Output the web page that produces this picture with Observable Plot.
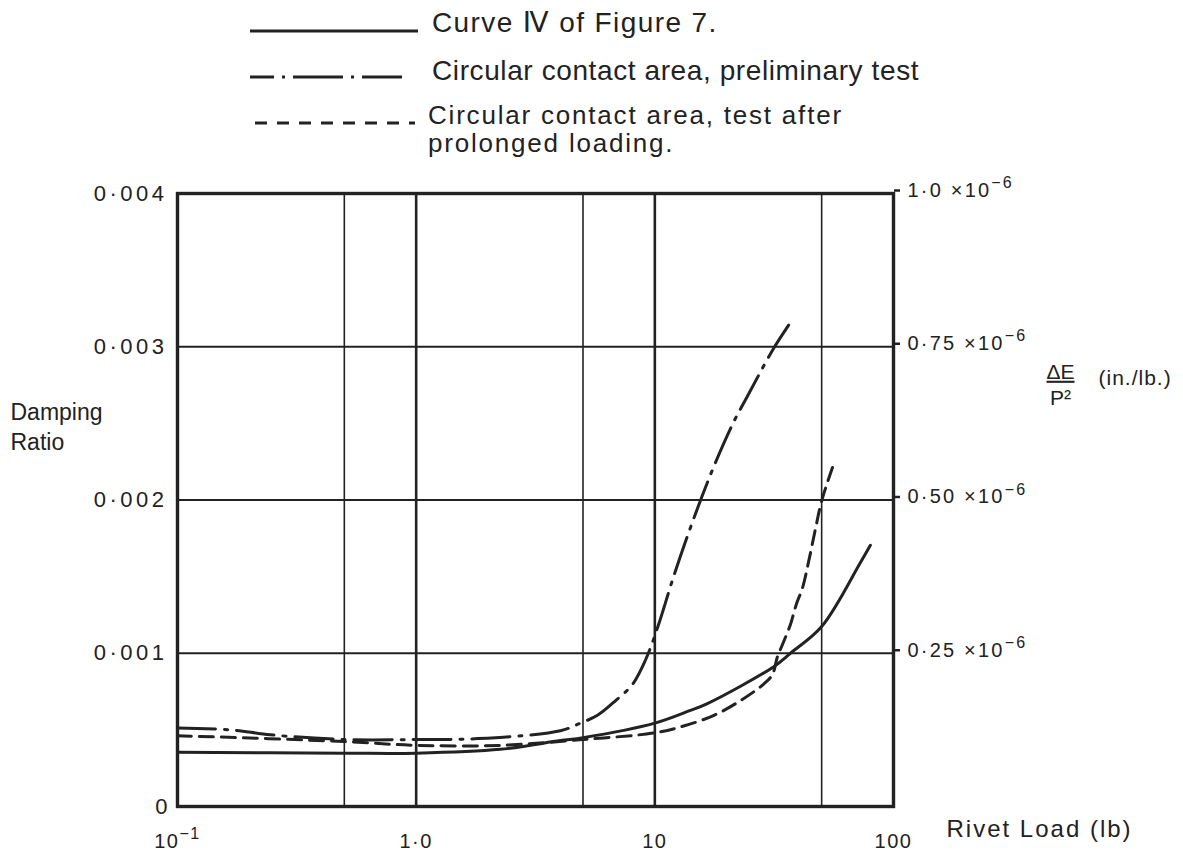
<!DOCTYPE html>
<html>
<head>
<meta charset="utf-8">
<script src="https://cdn.jsdelivr.net/npm/d3@7"></script>
<script src="https://cdn.jsdelivr.net/npm/@observablehq/plot@0.6"></script>
<style>
  html, body { margin: 0; padding: 0; background: #fff; }
  body { width: 1183px; height: 853px; overflow: hidden; font-family: "Liberation Sans", "DejaVu Sans", sans-serif; color: #222; }
  #legend { position: relative; width: 1183px; height: 170px; }
  #legend .sample { position: absolute; }
  #legend .label { position: absolute; font-size: 28px; line-height: 28px; white-space: nowrap; letter-spacing: 0.6px; }
</style>
</head>
<body>
<div id="legend"></div>
<div id="chart"></div>
<script>
// ---------- data ----------
// Rivet load (lb) and damping ratio for each curve
const curveIVLoad  = [0.1, 0.5, 1, 2.25, 4.02, 5, 10, 14.1, 16.6, 31.4, 37, 50, 72.6, 80];
const curveIVRatio = [0.000354, 0.000348, 0.000348, 0.000373, 0.00043, 0.000449, 0.000544, 0.000627, 0.000671, 0.000911, 0.001, 0.001174, 0.001591, 0.001705];

const prelimLoad  = [0.1, 0.167, 0.245, 0.5, 1, 1.81, 4.02, 4.88, 5.75, 6.84, 8.06, 9.14, 10.3, 12.0, 14.4, 17.6, 21.3, 24.4, 31.4, 38.1];
const prelimRatio = [0.000513, 0.0005, 0.000468, 0.000437, 0.000437, 0.000443, 0.000494, 0.000544, 0.000595, 0.00069, 0.000797, 0.000956, 0.001174, 0.001503, 0.001859, 0.002212, 0.002503, 0.002675, 0.002987, 0.003187];

const prolongedLoad  = [0.1, 0.5, 1, 2.25, 5, 10, 13.2, 17.7, 22.8, 28.5, 31.1, 32.6, 34.2, 37.0, 39.2, 41.5, 44.0, 47.1, 50.0, 55.5];
const prolongedRatio = [0.000462, 0.000424, 0.000399, 0.000399, 0.000437, 0.000481, 0.000525, 0.000595, 0.00069, 0.000797, 0.000861, 0.000975, 0.001054, 0.001188, 0.001322, 0.001423, 0.001591, 0.001812, 0.001993, 0.002212];

// axis ticks and labels
const xGridMinor   = [0.5, 5, 50];
const xGridMajor   = [1, 10];
const xLabelTicks  = [0.1, 1, 10, 100];
const xTickLabels  = ["10⁻¹", "1·0", "10", "100"];
const yTicks       = [0, 0.001, 0.002, 0.003, 0.004];
const yTickLabels  = ["0", "0·001", "0·002", "0·003", "0·004"];
const yGrid        = [0.001, 0.002, 0.003];
const rightTicks   = [0.001, 0.002, 0.003, 0.004];
const rightLabels  = ["0·25 ×10⁻⁶", "0·50 ×10⁻⁶", "0·75 ×10⁻⁶", "1·0 ×10⁻⁶"];

const legendLabels = ["Curve Ⅳ of Figure 7.", "Circular contact area, preliminary test", "Circular contact area, test after\nprolonged loading."];
const xTitle = "Rivet Load (lb)";
const yTitle = "Damping\nRatio";
const rightTitleTop = "ΔE";
const rightTitleBottom = "P²";
const rightTitleUnit = "(in./lb.)";

// ---------- styles ----------
const INK = "#222";
const dashes = [null, "38,9,3,9", "14,8"];
const legendDashes = [null, "24,8,3,8,50,8,3,8,40", "12,10"];

// ---------- build tables ----------
const toRows = (xs, ys) => xs.map((x, i) => ({load: x, ratio: ys[i]}));
const curveIV = toRows(curveIVLoad, curveIVRatio);
const prelim = toRows(prelimLoad, prelimRatio);
const prolonged = toRows(prolongedLoad, prolongedRatio);

const yLabelMap = new Map(yTicks.map((t, i) => [t, yTickLabels[i]]));
const xLabelMap = new Map(xLabelTicks.map((t, i) => [t, xTickLabels[i]]));
const rLabelMap = new Map(rightTicks.map((t, i) => [t, rightLabels[i]]));

// ---------- legend ----------
const legend = document.getElementById("legend");
const rowY = [31, 77, 123];
const textTop = [9, 57, 101];
legendLabels.forEach((lab, i) => {
  const svg = d3.select(legend).append("svg").attr("class", "sample")
    .attr("width", 170).attr("height", 10)
    .style("left", (i === 2 ? 255 : 250) + "px").style("top", (rowY[i] - 5) + "px");
  svg.append("line").attr("x1", 0).attr("x2", i === 2 ? 160 : 168).attr("y1", 5).attr("y2", 5)
    .attr("stroke", INK).attr("stroke-width", 3.2)
    .attr("stroke-dasharray", legendDashes[i]);
  const div = d3.select(legend).append("div").attr("class", "label")
    .style("left", (i === 2 ? 428 : 432) + "px").style("top", textTop[i] + "px")
    .style("font-size", i === 2 ? "26px" : "28px")
    .style("letter-spacing", i === 0 ? "1.4px" : i === 2 ? "1.8px" : "0.6px");
  lab.split("\n").forEach(line => div.append("div").text(line));
});

// ---------- chart ----------
const chart = Plot.plot({
  width: 1183,
  height: 683,
  marginTop: 23,
  marginBottom: 47,
  marginLeft: 177,
  marginRight: 290,
  style: {fontFamily: "Liberation Sans, DejaVu Sans, sans-serif", fontSize: "20px", color: INK, background: "white", overflow: "visible"},
  x: {type: "log", domain: [0.1, 100]},
  y: {domain: [0, 0.004]},
  marks: [
    Plot.gridX(xGridMinor, {stroke: INK, strokeOpacity: 1, strokeWidth: 1.6}),
    Plot.gridX(xGridMajor, {stroke: INK, strokeOpacity: 1, strokeWidth: 2.6}),
    Plot.gridY(yGrid, {stroke: INK, strokeOpacity: 1, strokeWidth: 2}),
    Plot.frame({stroke: INK, strokeWidth: 3.4}),
    Plot.axisX(xLabelTicks, {tickSize: 0, tickPadding: 27, tickFormat: d => xLabelMap.get(d), label: null, fontSize: 20}),
    Plot.axisY(yTicks, {anchor: "left", tickSize: 0, tickPadding: 10, tickFormat: d => yLabelMap.get(d), label: null, fontSize: 22}),
    Plot.axisY(rightTicks, {anchor: "right", tickSize: 6, tickPadding: 8, tickFormat: d => rLabelMap.get(d), label: null, fontSize: 20, dy: -3, strokeWidth: 2.5}),
    Plot.line(curveIV, {x: "load", y: "ratio", stroke: INK, strokeWidth: 3, curve: "catmull-rom"}),
    Plot.line(prelim, {x: "load", y: "ratio", stroke: INK, strokeWidth: 3, curve: "catmull-rom", strokeDasharray: dashes[1]}),
    Plot.line(prolonged, {x: "load", y: "ratio", stroke: INK, strokeWidth: 3, curve: "catmull-rom", strokeDasharray: dashes[2]}),
    Plot.text([yTitle], {text: d => d, frameAnchor: "left", textAnchor: "start", dx: -167, dy: -75, fontSize: 23, lineHeight: 1.3}),
    Plot.text([xTitle], {text: d => d, frameAnchor: "bottom-right", textAnchor: "start", dx: 53, dy: 30, fontSize: 24}),
    Plot.text([rightTitleTop], {text: d => d, frameAnchor: "right", textAnchor: "middle", dx: 167, dy: -128, fontSize: 21}),
    Plot.text([rightTitleBottom], {text: d => d, frameAnchor: "right", textAnchor: "middle", dx: 167, dy: -102, fontSize: 21}),
    Plot.text([rightTitleUnit], {text: d => d, frameAnchor: "right", textAnchor: "start", dx: 205, dy: -122, fontSize: 21})
  ]
});

const root = d3.select(chart);

// letter spacing to mimic the wide hand lettering
root.selectAll("text").each(function() {
  const t = this.textContent;
  let ls = null;
  if (yTickLabels.includes(t)) ls = t === "0" ? 0 : 3.5;
  else if (rightLabels.includes(t)) ls = 2.2;
  else if (xTickLabels.includes(t)) ls = 1.5;
  else if (t === xTitle) ls = 2;
  else if (t === rightTitleUnit) ls = 1;
  if (ls !== null) this.style.letterSpacing = ls + "px";
});

// fraction bar under ΔE
root.selectAll("text").filter(function() { return this.textContent === rightTitleTop; })
  .attr("text-decoration", "underline");

// render superscript exponents as raised tspans
const supMap = {"⁻": "−", "¹": "1", "⁶": "6", "²": "2"};
root.selectAll("text").each(function() {
  const t = this.textContent;
  const k = t.indexOf("⁻");
  if (k < 0 || this.children.length) return;
  const base = t.slice(0, k);
  const sup = Array.from(t.slice(k)).map(c => supMap[c] || c).join("");
  this.textContent = "";
  const sel = d3.select(this);
  sel.append("tspan").text(base);
  sel.append("tspan").attr("dy", "-0.55em").attr("font-size", "0.8em").text(sup);
});

document.getElementById("chart").appendChild(chart);
</script>
</body>
</html>
